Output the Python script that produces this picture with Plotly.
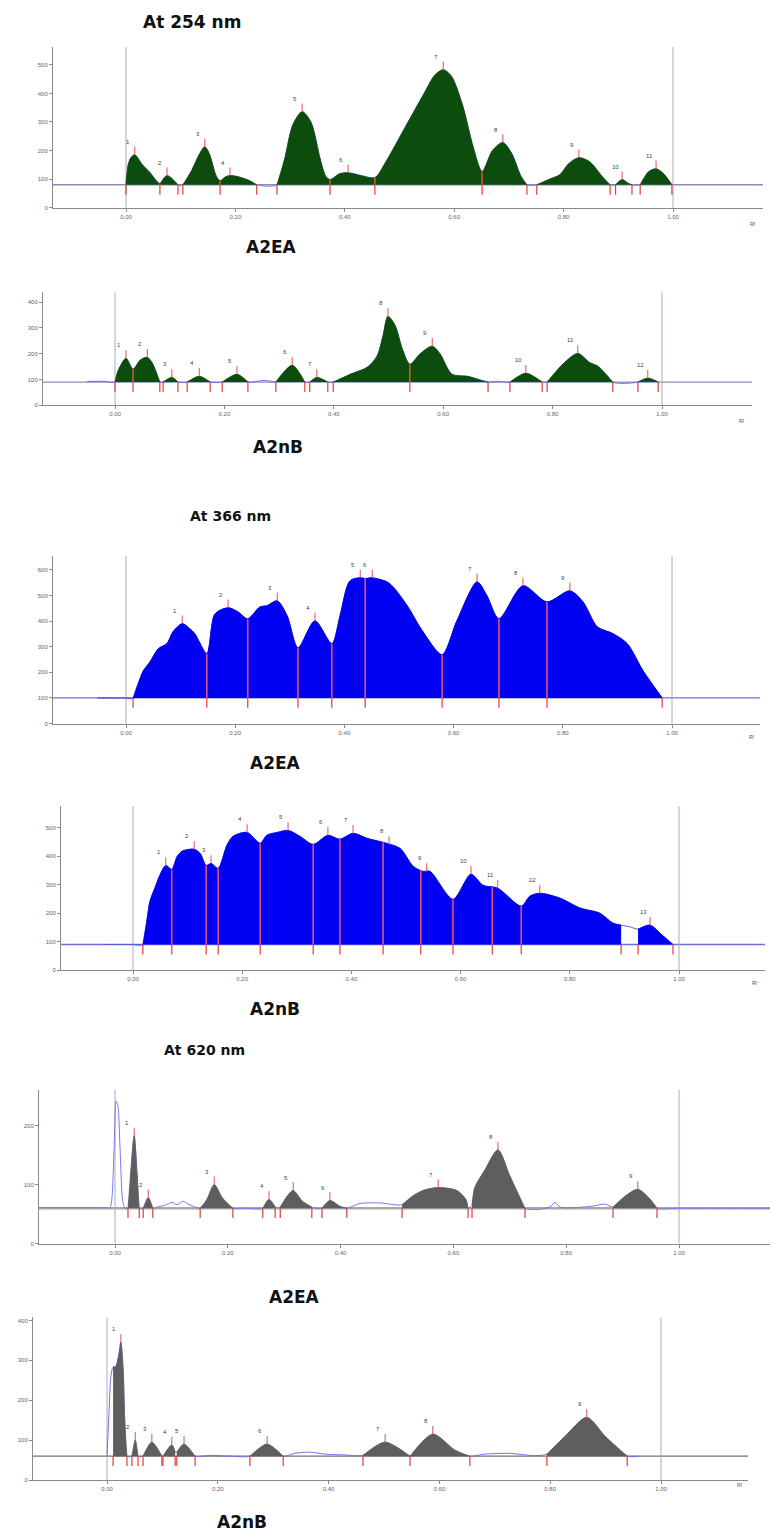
import numpy as np
import plotly.graph_objects as go

W, H = 770, 1533

# ---------------- data (Rf vs AU) ----------------
# 254 nm, A2EA
a254_rf = [0.000, 0.004, 0.009, 0.016, 0.030, 0.044, 0.055, 0.062, 0.070, 0.075, 0.082, 0.095,
           0.104, 0.120, 0.135, 0.144, 0.152, 0.165, 0.172, 0.182, 0.190, 0.205, 0.225, 0.239,
           0.276, 0.290, 0.305, 0.322, 0.338, 0.355, 0.365, 0.373, 0.390, 0.406, 0.430, 0.455,
           0.475, 0.510, 0.545, 0.565, 0.580, 0.595, 0.615, 0.635, 0.651, 0.670, 0.689, 0.705,
           0.722, 0.733, 0.751, 0.775, 0.793, 0.810, 0.828, 0.848, 0.870, 0.885, 0.895, 0.907,
           0.918, 0.925, 0.940, 0.955, 0.969, 0.982, 0.998]
a254_au = [80, 150, 175, 185, 150, 122, 95, 84, 105, 112, 105, 80,
           80, 130, 190, 213, 190, 110, 94, 108, 112, 108, 95, 80,
           80, 170, 290, 336, 300, 170, 110, 98, 118, 122, 112, 105,
           160, 280, 400, 465, 483, 460, 360, 210, 126, 200, 228, 190,
           110, 80, 80, 100, 115, 155, 175, 160, 110, 80, 80, 98,
           85, 80, 80, 125, 136, 120, 80]
a254_win = [(0.000, 0.095), (0.104, 0.239), (0.276, 0.733), (0.751, 0.885), (0.895, 0.925), (0.940, 0.998)]
a254_apex = [0.016, 0.075, 0.144, 0.190, 0.322, 0.406, 0.580, 0.689, 0.828, 0.907, 0.969]
a254_split = [0.062, 0.172, 0.373, 0.455, 0.651]

# 254 nm, A2nB
b254_rf = [-0.051, -0.020, 0.000, 0.005, 0.020, 0.033, 0.046, 0.059, 0.069, 0.082,
           0.088, 0.104, 0.115, 0.132, 0.154, 0.174, 0.196, 0.223, 0.243, 0.252,
           0.271, 0.289, 0.294, 0.324, 0.347, 0.356, 0.369, 0.389, 0.399, 0.430,
           0.461, 0.479, 0.490, 0.499, 0.512, 0.525, 0.539, 0.558, 0.580, 0.594,
           0.616, 0.645, 0.664, 0.682, 0.700, 0.722, 0.751, 0.781, 0.790, 0.819,
           0.846, 0.868, 0.883, 0.910, 0.932, 0.956, 0.974, 0.993]
b254_au = [92, 93, 90, 130, 182, 140, 175, 186, 160, 90,
           90, 108, 90, 90, 112, 90, 90, 120, 90, 90,
           96, 92, 90, 155, 90, 90, 108, 90, 90, 120,
           147, 190, 270, 345, 310, 220, 159, 200, 229, 200,
           120, 112, 100, 90, 93, 90, 124, 90, 90, 160,
           201, 165, 151, 90, 85, 90, 105, 90]
b254_win = [(0.000, 0.082), (0.088, 0.115), (0.132, 0.174), (0.196, 0.243), (0.294, 0.347),
            (0.356, 0.389), (0.399, 0.682), (0.722, 0.781), (0.790, 0.910), (0.956, 0.993)]
b254_apex = [0.020, 0.059, 0.104, 0.154, 0.223, 0.324, 0.369, 0.499, 0.580, 0.751, 0.846, 0.974]
b254_split = [0.033, 0.539]

# 366 nm, A2EA
a366_rf = [-0.053, -0.002, 0.013, 0.031, 0.044, 0.059, 0.075, 0.086, 0.103, 0.117,
           0.126, 0.148, 0.163, 0.187, 0.205, 0.223, 0.245, 0.258, 0.277, 0.295,
           0.315, 0.346, 0.377, 0.392, 0.410, 0.429, 0.438, 0.451, 0.478, 0.489,
           0.515, 0.544, 0.579, 0.606, 0.643, 0.661, 0.683, 0.727, 0.771, 0.813,
           0.837, 0.863, 0.892, 0.918, 0.947, 0.982]
a366_au = [100, 100, 100, 203, 241, 292, 312, 358, 390, 370,
           351, 273, 428, 452, 436, 409, 455, 460, 479, 421,
           296, 401, 312, 421, 557, 569, 566, 569, 553, 534,
           460, 358, 269, 401, 553, 499, 409, 538, 475, 518,
           475, 378, 351, 312, 206, 100]
a366_win = [(0.013, 0.982)]
a366_apex = [0.103, 0.187, 0.277, 0.346, 0.429, 0.451, 0.643, 0.727, 0.813]
a366_split = [0.148, 0.223, 0.315, 0.377, 0.438, 0.579, 0.683, 0.771]

# 366 nm, A2nB
b366_rf = [-0.051, -0.002, 0.018, 0.026, 0.031, 0.040, 0.049, 0.060, 0.071, 0.081,
           0.090, 0.112, 0.123, 0.134, 0.143, 0.156, 0.172, 0.183, 0.209, 0.233,
           0.245, 0.264, 0.284, 0.306, 0.330, 0.357, 0.379, 0.403, 0.429, 0.458,
           0.489, 0.513, 0.531, 0.544, 0.586, 0.619, 0.641, 0.668, 0.711, 0.727,
           0.745, 0.782, 0.819, 0.855, 0.879, 0.894, 0.910, 0.925, 0.947, 0.969,
           0.989]
b366_au = [90, 90, 90, 182, 242, 288, 333, 368, 354, 400,
           418, 425, 410, 368, 375, 358, 439, 470, 484, 446,
           474, 484, 491, 470, 442, 474, 460, 481, 463, 449,
           428, 365, 347, 347, 249, 337, 298, 288, 225, 260,
           270, 253, 218, 200, 165, 158, 152, 144, 158, 123,
           90]
b366_win = [(0.018, 0.894), (0.925, 0.989)]
b366_apex = [0.060, 0.112, 0.143, 0.209, 0.284, 0.357, 0.403, 0.469, 0.538, 0.619, 0.668, 0.745, 0.947]
b366_split = [0.071, 0.134, 0.156, 0.233, 0.330, 0.379, 0.458, 0.527, 0.586, 0.658, 0.711]

# 620 nm, A2EA
a620_rf = [-0.135, -0.030, -0.015, -0.009, -0.002, 0.002, 0.005, 0.009, 0.014, 0.018,
           0.023, 0.028, 0.034, 0.039, 0.043, 0.050, 0.059, 0.067, 0.074, 0.089,
           0.101, 0.110, 0.121, 0.128, 0.142, 0.151, 0.163, 0.176, 0.190, 0.209,
           0.230, 0.262, 0.273, 0.284, 0.293, 0.305, 0.316, 0.332, 0.349, 0.367,
           0.381, 0.399, 0.411, 0.434, 0.470, 0.509, 0.527, 0.546, 0.573, 0.606,
           0.622, 0.626, 0.633, 0.638, 0.656, 0.679, 0.700, 0.727, 0.771, 0.780,
           0.789, 0.842, 0.869, 0.883, 0.904, 0.927, 0.949, 0.961, 1.000, 1.161]
a620_au = [61, 61, 61, 61, 150, 242, 235, 160, 70, 60,
           60, 120, 183, 120, 60, 60, 78, 60, 62, 65,
           70, 66, 72, 68, 62, 60, 75, 100, 78, 60,
           60, 60, 75, 62, 62, 80, 90, 72, 62, 60,
           73, 63, 60, 68, 69, 66, 80, 90, 95, 90,
           75, 60, 65, 95, 125, 159, 115, 60, 62, 70,
           62, 63, 67, 62, 80, 92, 75, 60, 60, 60]
a620_win = [(0.023, 0.043), (0.050, 0.067), (0.151, 0.209), (0.262, 0.284), (0.293, 0.349),
            (0.367, 0.411), (0.509, 0.626), (0.633, 0.727), (0.883, 0.961)]
a620_apex = [0.034, 0.059, 0.176, 0.273, 0.316, 0.381, 0.573, 0.679, 0.927]
a620_split = []

# 620 nm, A2nB
b620_rf = [0.000, 0.004, 0.007, 0.011, 0.016, 0.022, 0.025, 0.029, 0.032, 0.036,
           0.045, 0.051, 0.056, 0.065, 0.081, 0.099, 0.101, 0.117, 0.123, 0.126,
           0.139, 0.159, 0.186, 0.222, 0.258, 0.289, 0.318, 0.339, 0.366, 0.394,
           0.430, 0.462, 0.502, 0.547, 0.588, 0.628, 0.655, 0.682, 0.727, 0.765,
           0.794, 0.827, 0.866, 0.899, 0.939, 0.960]
b620_au = [60, 180, 260, 283, 285, 320, 345, 280, 150, 60,
           60, 100, 60, 60, 95, 60, 60, 88, 70, 70,
           90, 60, 62, 60, 60, 90, 60, 67, 70, 65,
           63, 62, 95, 60, 115, 75, 60, 65, 67, 62,
           65, 110, 157, 110, 60, 60]
b620_win = [(0.011, 0.036), (0.045, 0.056), (0.065, 0.099), (0.101, 0.123), (0.126, 0.159),
            (0.258, 0.318), (0.462, 0.547), (0.547, 0.655), (0.794, 0.939)]
b620_apex = [0.025, 0.051, 0.081, 0.117, 0.139, 0.289, 0.502, 0.588, 0.866]
b620_split = []

rf_ticks = [0.0, 0.2, 0.4, 0.6, 0.8, 1.0]
rf_ticktext = ["0.00", "0.20", "0.40", "0.60", "0.80", "1.00"]

# ---------------- panel styling / geometry (pixels) ----------------
panels = [
    dict(rf=a254_rf, au=a254_au, win=a254_win, apex=a254_apex, split=a254_split, base=80,
         yt=[0, 100, 200, 300, 400, 500], geom=(53, 763, 47, 208, 126, 547, 0.286),
         fill="#0c4c0c", raw="#7c7cd8", splitcol="#d5532e", basecol="#8c8cb4", basew=1.3, rflab=(758, 219)),
    dict(rf=b254_rf, au=b254_au, win=b254_win, apex=b254_apex, split=b254_split, base=90,
         yt=[0, 100, 200, 300, 400], geom=(43, 752, 293, 406, 115, 547, 0.258),
         fill="#0c4c0c", raw="#6a6ae0", splitcol="#d5532e", basecol="#8c8cb4", basew=1.3, rflab=(747, 417)),
    dict(rf=a366_rf, au=a366_au, win=a366_win, apex=a366_apex, split=a366_split, base=100,
         yt=[0, 100, 200, 300, 400, 500, 600], geom=(53, 760, 557, 725, 126, 546, 0.2567),
         fill="#0000f2", raw="#3c3cc8", splitcol="#e0507e", basecol="#7070d8", basew=1.3, rflab=(757, 738)),
    dict(rf=b366_rf, au=b366_au, win=b366_win, apex=b366_apex, split=b366_split, base=90,
         yt=[0, 100, 200, 300, 400, 500], geom=(61, 765, 808, 972, 133, 546, 0.285),
         fill="#0000f2", raw="#5a5ae0", splitcol="#e0507e", basecol="#7070d8", basew=1.3, rflab=(760, 985)),
    dict(rf=a620_rf, au=a620_au, win=a620_win, apex=a620_apex, split=a620_split, base=60,
         yt=[0, 100, 200], geom=(39, 770, 1092, 1246, 115, 564, 0.59),
         fill="#5e5e5e", raw="#7878f0", splitcol="#e04040", basecol="#a8a8a8", basew=2.4, rflab=None),
    dict(rf=b620_rf, au=b620_au, win=b620_win, apex=b620_apex, split=b620_split, base=60,
         yt=[0, 100, 200, 300, 400], geom=(33, 748, 1320, 1483, 107, 554, 0.40),
         fill="#5e5e5e", raw="#7070e8", splitcol="#e04040", basecol="#707070", basew=1.3, rflab=(745, 1493)),
]

fig = go.Figure()
shapes, annos = [], []
tickfont = dict(family="Liberation Sans", size=6, color="#666")

for i, p in enumerate(panels, start=1):
    sfx = "" if i == 1 else str(i)
    xa, ya = "x" + sfx, "y" + sfx
    L, R, T, B, X0, XS, YS = p["geom"]
    base = p["base"]
    rf = np.array(p["rf"], dtype=float)
    au = np.array(p["au"], dtype=float)
    assert len(rf) == len(au)

    fig.layout["xaxis" + sfx] = dict(
        domain=[L / W, R / W], range=[(L - X0) / XS, (R - X0) / XS], anchor=ya,
        showline=True, linecolor="#8a8a8a", linewidth=1, ticks="outside", ticklen=3,
        tickcolor="#8a8a8a", tickvals=rf_ticks, ticktext=rf_ticktext, tickfont=tickfont,
        showgrid=False, zeroline=False, fixedrange=True)
    fig.layout["yaxis" + sfx] = dict(
        domain=[1 - B / H, 1 - T / H], range=[0, (B - T) / YS], anchor=xa,
        showline=True, linecolor="#8a8a8a", linewidth=1, ticks="outside", ticklen=3,
        tickcolor="#8a8a8a", tickvals=p["yt"], tickfont=tickfont,
        showgrid=False, zeroline=False, fixedrange=True)

    # baseline and Rf 0 / 1 markers
    shapes.append(dict(type="line", xref=xa + " domain", yref=ya, x0=0, x1=1, y0=base, y1=base,
                       line=dict(color=p["basecol"], width=p["basew"]), layer="below"))
    for v in (0.0, 1.0):
        shapes.append(dict(type="line", xref=xa, yref=ya + " domain", x0=v, x1=v, y0=0, y1=1,
                           line=dict(color="#a4acbc", width=1), layer="below"))

    # raw scan line
    fig.add_trace(go.Scatter(x=rf, y=au, mode="lines", xaxis=xa, yaxis=ya, hoverinfo="skip",
                             line=dict(color=p["raw"], width=1, shape="spline", smoothing=0.8)))
    # integrated peak areas
    for s, e in p["win"]:
        m = (rf >= s - 1e-9) & (rf <= e + 1e-9)
        fig.add_trace(go.Scatter(x=[s, e], y=[base, base], mode="lines", xaxis=xa, yaxis=ya,
                                 hoverinfo="skip", line=dict(width=0, color=p["fill"])))
        fig.add_trace(go.Scatter(x=rf[m], y=au[m], mode="lines", fill="tonexty",
                                 fillcolor=p["fill"], xaxis=xa, yaxis=ya,
                                 line=dict(color=p["fill"], width=0.8, shape="spline", smoothing=0.8)))

    # peak separators
    for s in p["split"]:
        shapes.append(dict(type="line", xref=xa, yref=ya, x0=s, x1=s, y0=base,
                           y1=float(np.interp(s, rf, au)),
                           line=dict(color=p["splitcol"], width=1.6)))
    bounds = sorted(set([w[0] for w in p["win"]] + [w[1] for w in p["win"]] + list(p["split"])))
    fig.add_trace(go.Scatter(x=bounds, y=[base - 5 / YS] * len(bounds), mode="markers",
                             xaxis=xa, yaxis=ya, hoverinfo="skip",
                             marker=dict(symbol="line-ns", size=7,
                                         line=dict(color="#e23b3b", width=1.2))))
    # apex ticks and peak numbers
    apex_h = [float(np.interp(a, rf, au)) for a in p["apex"]]
    fig.add_trace(go.Scatter(x=p["apex"], y=[h + 4 / YS for h in apex_h], mode="markers",
                             xaxis=xa, yaxis=ya, hoverinfo="skip",
                             marker=dict(symbol="line-ns", size=6,
                                         line=dict(color="#e25050", width=1))))
    for k, (a, h) in enumerate(zip(p["apex"], apex_h), start=1):
        annos.append(dict(x=a, y=h, xref=xa, yref=ya, text=str(k), showarrow=False,
                          xshift=-7, yshift=13, font=dict(family="Liberation Sans", size=6, color="#444")))
    if p["rflab"]:
        annos.append(dict(x=p["rflab"][0] / W, y=1 - p["rflab"][1] / H, xref="paper", yref="paper",
                          text="Rf", showarrow=False, font=dict(family="Liberation Sans", size=5, color="#555")))

# titles
titles = [("At 254 nm", 192, 22, 17), ("A2EA", 271, 247, 17), ("A2nB", 278, 448, 17),
          ("At 366 nm", 230, 517, 14), ("A2EA", 275, 764, 17), ("A2nB", 275, 1011, 17),
          ("At 620 nm", 205, 1052, 14), ("A2EA", 294, 1300, 17), ("A2nB", 242, 1525, 17)]
for txt, px, py, fs in titles:
    annos.append(dict(x=px / W, y=1 - py / H, xref="paper", yref="paper", text="<b>" + txt + "</b>",
                      showarrow=False, xanchor="center", yanchor="middle",
                      font=dict(family="DejaVu Sans", size=fs, color="#111")))

fig.update_layout(width=W, height=H, margin=dict(l=0, r=0, t=0, b=0), autosize=False,
                  paper_bgcolor="white", plot_bgcolor="white", showlegend=False,
                  shapes=shapes, annotations=annos)

fig.write_html("out.html", config={"displayModeBar": False},
               post_script="document.body.style.margin='0';")
